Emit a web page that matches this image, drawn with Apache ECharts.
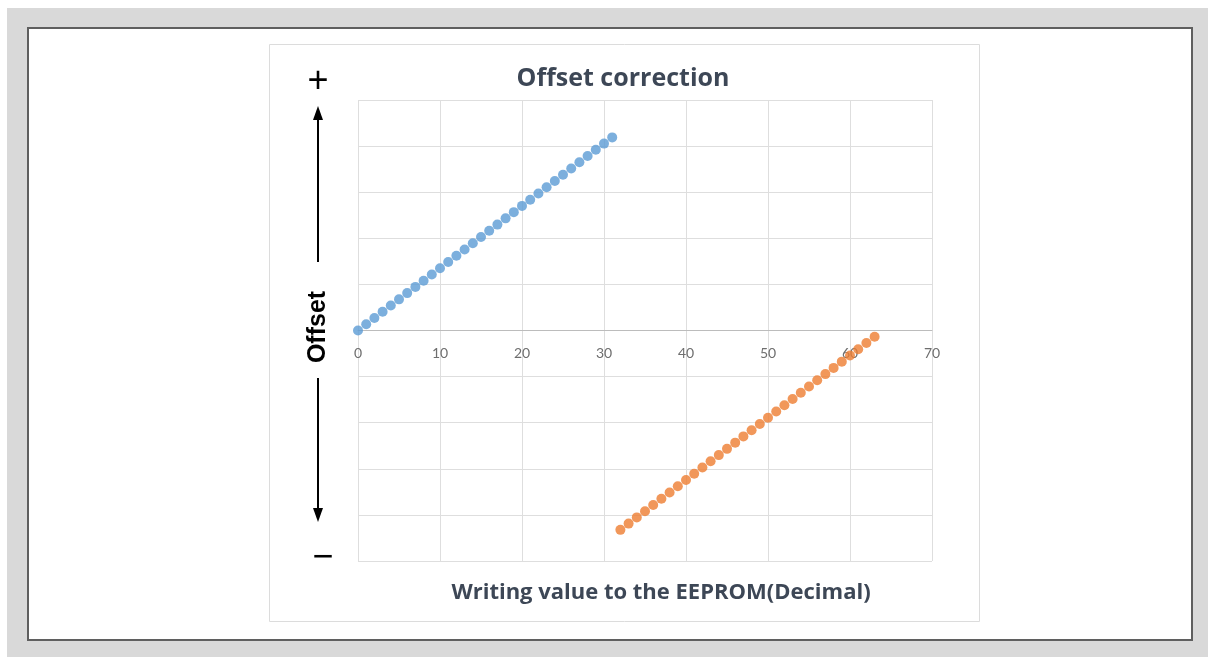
<!DOCTYPE html>
<html>
<head>
<meta charset="utf-8">
<title>Offset correction</title>
<script src="https://cdn.jsdelivr.net/npm/echarts@6/dist/echarts.min.js"></script>
<style>
    html, body { margin: 0; padding: 0; background: #ffffff; }
    #chart { width: 1208px; height: 657px; }
</style>
</head>
<body>
<div id="chart"></div>
<script>
    // value written to the EEPROM (decimal)
    var writeLow = [0, 1, 2, 3, 4, 5, 6, 7, 8, 9, 10, 11, 12, 13, 14, 15,
        16, 17, 18, 19, 20, 21, 22, 23, 24, 25, 26, 27, 28, 29, 30, 31];
    var writeHigh = [32, 33, 34, 35, 36, 37, 38, 39, 40, 41, 42, 43, 44, 45, 46, 47,
        48, 49, 50, 51, 52, 53, 54, 55, 56, 57, 58, 59, 60, 61, 62, 63];
    // resulting offset, in steps
    var offsetPos = [0, 1, 2, 3, 4, 5, 6, 7, 8, 9, 10, 11, 12, 13, 14, 15,
        16, 17, 18, 19, 20, 21, 22, 23, 24, 25, 26, 27, 28, 29, 30, 31];
    var offsetNeg = [-32, -31, -30, -29, -28, -27, -26, -25, -24, -23, -22, -21, -20, -19, -18, -17,
        -16, -15, -14, -13, -12, -11, -10, -9, -8, -7, -6, -5, -4, -3, -2, -1];

    var xTicks = { min: 0, max: 70, interval: 10 };
    var yTicks = { min: -37, max: 37, interval: 7.4 };

    function pairs(xs, ys) {
        var out = [];
        for (var i = 0; i < xs.length; i++) out.push([xs[i], ys[i]]);
        return out;
    }

    var chartDom = document.getElementById('chart');
    var myChart = echarts.init(chartDom);
    var option;

    var ink = '#3d4756';
    var arrowX = 318;
    var gridTop = 100, gridHeight = 461;

    option = {
        backgroundColor: '#ffffff',
        animation: false,
        title: {
            text: 'Offset correction',
            left: 618,
            top: 61,
            textAlign: 'center',
            textStyle: {
                fontFamily: 'Open Sans',
                fontWeight: 'bold',
                fontSize: 25,
                color: ink
            }
        },
        grid: {
            left: 358,
            top: gridTop,
            width: 574,
            height: gridHeight
        },
        xAxis: {
            type: 'value',
            min: xTicks.min,
            max: xTicks.max,
            interval: xTicks.interval,
            // axis sits on the zero line, labels with it
            offset: -gridHeight / 2,
            axisLine: { onZero: false, lineStyle: { color: '#bcbcbc', width: 1 } },
            axisTick: { show: false },
            axisLabel: {
                margin: 16,
                fontFamily: 'Lato',
                fontSize: 14,
                color: '#6e6e6e'
            },
            splitLine: { show: true, lineStyle: { color: '#dedede', width: 1 } }
        },
        yAxis: {
            type: 'value',
            min: yTicks.min,
            max: yTicks.max,
            interval: yTicks.interval,
            axisLine: { show: false },
            axisTick: { show: false },
            axisLabel: { show: false },
            splitLine: { show: true, lineStyle: { color: '#dedede', width: 1 } }
        },
        series: [
            {
                name: 'positive',
                type: 'scatter',
                symbol: 'circle',
                symbolSize: 10,
                itemStyle: { color: '#5b9bd5' },
                data: pairs(writeLow, offsetPos)
            },
            {
                name: 'negative',
                type: 'scatter',
                symbol: 'circle',
                symbolSize: 10,
                itemStyle: { color: '#ed7d31' },
                data: pairs(writeHigh, offsetNeg)
            }
        ],
        graphic: [
            // page background and frames
            { type: 'rect', z: -30, silent: true, shape: { x: 7, y: 8, width: 1201, height: 649 }, style: { fill: '#d9d9d9' } },
            { type: 'rect', z: -20, silent: true, shape: { x: 28, y: 28, width: 1164, height: 612 }, style: { fill: '#ffffff', stroke: '#5f5f5f', lineWidth: 2 } },
            { type: 'rect', z: -10, silent: true, shape: { x: 269.5, y: 44.5, width: 710, height: 577 }, style: { fill: '#ffffff', stroke: '#dcdcdc', lineWidth: 1 } },
            // x axis name
            {
                type: 'text', z: 10, silent: true,
                x: 661, y: 593,
                style: {
                    text: 'Writing value to the EEPROM(Decimal)',
                    fill: ink,
                    font: 'bold 22px "Open Sans"',
                    align: 'center',
                    verticalAlign: 'middle'
                }
            },
            // y annotation: + / arrows / Offset / -
            {
                type: 'text', z: 10, silent: true,
                x: arrowX, y: 82,
                style: { text: '+', fill: '#000000', font: '36px "Liberation Sans"', align: 'center', verticalAlign: 'middle' }
            },
            { type: 'line', z: 10, silent: true, shape: { x1: arrowX, y1: 262, x2: arrowX, y2: 116 }, style: { stroke: '#000000', lineWidth: 2 } },
            { type: 'polygon', z: 10, silent: true, shape: { points: [[arrowX, 106], [arrowX - 5, 120], [arrowX + 5, 120]] }, style: { fill: '#000000' } },
            {
                type: 'text', z: 10, silent: true,
                x: arrowX, y: 327, rotation: Math.PI / 2,
                style: { text: 'Offset', fill: '#000000', font: 'bold 25px "Liberation Sans"', align: 'center', verticalAlign: 'middle' }
            },
            { type: 'line', z: 10, silent: true, shape: { x1: arrowX, y1: 378, x2: arrowX, y2: 512 }, style: { stroke: '#000000', lineWidth: 2 } },
            { type: 'polygon', z: 10, silent: true, shape: { points: [[arrowX, 522], [arrowX - 5, 508], [arrowX + 5, 508]] }, style: { fill: '#000000' } },
            {
                type: 'text', z: 10, silent: true,
                x: 323, y: 558,
                style: { text: '\u2212', fill: '#000000', font: '36px "Liberation Sans"', align: 'center', verticalAlign: 'middle' }
            }
        ]
    };

    option && myChart.setOption(option);
</script>
</body>
</html>
